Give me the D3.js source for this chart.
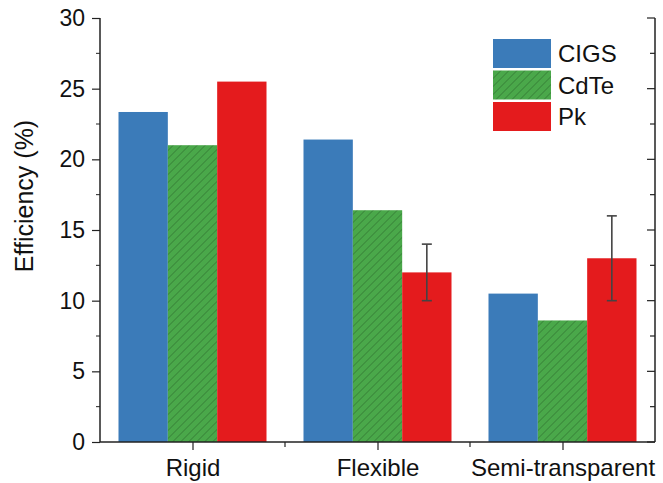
<!DOCTYPE html>
<html>
<head>
<meta charset="utf-8">
<script src="https://cdn.jsdelivr.net/npm/d3@7/dist/d3.min.js"></script>
<style>
  html, body { margin: 0; padding: 0; background: #fff; }
  svg { display: block; font-family: "Liberation Sans", Arial, sans-serif; }
</style>
</head>
<body>
<svg id="chart" width="663" height="483"></svg>
<script>
// Device categories and the three absorber technologies
const categories = ["Rigid", "Flexible", "Semi-transparent"];
const seriesNames = ["CIGS", "CdTe", "Pk"];
const cigs = [23.35, 21.4, 10.5];
const cdte = [21.0, 16.4, 8.6];
const pk = [25.5, 12.0, 13.0];
// Error ranges for perovskite (low, high); null where not reported
const pkErrLow = [null, 10, 10];
const pkErrHigh = [null, 14, 16];
const yTicks = [0, 5, 10, 15, 20, 25, 30];

const colors = { CIGS: "#3b7bb9", CdTe: "#4aa84a", Pk: "#e41b1d" };
const seriesValues = { CIGS: cigs, CdTe: cdte, Pk: pk };

const margin = { left: 100, right: 8, top: 18, bottom: 41 };
const width = 663, height = 483;
const svg = d3.select("#chart");

const defs = svg.append("defs");
const pat = defs.append("pattern")
  .attr("id", "hatch")
  .attr("patternUnits", "userSpaceOnUse")
  .attr("width", 8).attr("height", 8);
pat.append("rect").attr("width", 8).attr("height", 8).attr("fill", colors.CdTe);
pat.append("path")
  .attr("d", "M-2,2 L2,-2 M0,8 L8,0 M6,10 L10,6")
  .attr("stroke", "#2f6e2f").attr("stroke-width", 0.9).attr("stroke-opacity", 0.8);

// Each category slot is one step; bars fill 80% of it
const step = (width - margin.right - margin.left) / categories.length;
const xCat = d3.scalePoint()
  .domain(categories)
  .range([margin.left + step / 2, width - margin.right - step / 2]);
const xSub = d3.scaleBand()
  .domain(seriesNames)
  .range([0, step * 0.8]);

const y = d3.scaleLinear()
  .domain([0, 30])
  .range([height - margin.bottom, margin.top]);

// Bars
const groups = svg.append("g").selectAll("g")
  .data(categories)
  .join("g")
  .attr("transform", d => `translate(${xCat(d) - step * 0.4},0)`);

groups.selectAll("rect")
  .data((c, i) => seriesNames.map(s => ({ s, v: seriesValues[s][i] })))
  .join("rect")
  .attr("x", d => xSub(d.s))
  .attr("width", xSub.bandwidth())
  .attr("y", d => y(d.v))
  .attr("height", d => y(0) - y(d.v))
  .attr("fill", d => d.s === "CdTe" ? "url(#hatch)" : colors[d.s]);

// Error bars on perovskite
const errData = categories.map((c, i) => ({ c, lo: pkErrLow[i], hi: pkErrHigh[i] }))
  .filter(d => d.lo !== null);
const errG = svg.append("g").attr("stroke", "#444").attr("stroke-width", 1.6);
errData.forEach(d => {
  const cx = xCat(d.c) - step * 0.4 + xSub("Pk") + xSub.bandwidth() / 2;
  errG.append("line").attr("x1", cx).attr("x2", cx).attr("y1", y(d.lo)).attr("y2", y(d.hi));
  errG.append("line").attr("x1", cx - 5).attr("x2", cx + 5).attr("y1", y(d.lo)).attr("y2", y(d.lo));
  errG.append("line").attr("x1", cx - 5).attr("x2", cx + 5).attr("y1", y(d.hi)).attr("y2", y(d.hi));
});

// Left axis with major and minor ticks
const axisColor = "#222";
const yMinor = d3.range(2.5, 30, 5);
const left = svg.append("g").attr("transform", `translate(${margin.left},0)`);
left.call(d3.axisLeft(y).tickValues(yTicks).tickSize(8).tickPadding(7).tickFormat(d3.format("d")));
left.call(g => g.selectAll(".tick text").attr("font-size", 23).attr("fill", "#111")
  .attr("font-family", "'Liberation Sans', Arial, sans-serif"));
left.selectAll(".domain").remove();
left.append("g").selectAll("line").data(yMinor).join("line")
  .attr("x1", -4).attr("x2", 0).attr("y1", d => y(d)).attr("y2", d => y(d))
  .attr("stroke", axisColor);
left.append("line").attr("x1", 0).attr("x2", 0).attr("y1", y(30)).attr("y2", y(0))
  .attr("stroke", axisColor).attr("stroke-width", 1.5);
left.selectAll(".tick line").attr("stroke", axisColor).attr("stroke-width", 1.2);

// Right axis: inward ticks, no labels
const rightX = width - margin.right;
const right = svg.append("g").attr("transform", `translate(${rightX},0)`);
right.append("line").attr("x1", 0).attr("x2", 0).attr("y1", y(30)).attr("y2", y(0))
  .attr("stroke", axisColor).attr("stroke-width", 1.5);
right.selectAll("line.t").data(yTicks.concat(yMinor)).join("line").attr("class", "t")
  .attr("x1", d => yTicks.includes(d) ? -8 : -5).attr("x2", 0)
  .attr("y1", d => y(d)).attr("y2", d => y(d))
  .attr("stroke", axisColor).attr("stroke-width", 1.2);

// Bottom axis
const bottom = svg.append("g").attr("transform", `translate(0,${y(0)})`);
bottom.call(d3.axisBottom(xCat).tickSize(8).tickPadding(9));
bottom.selectAll(".domain").remove();
bottom.append("line").attr("x1", margin.left).attr("x2", rightX).attr("y1", 0).attr("y2", 0)
  .attr("stroke", axisColor).attr("stroke-width", 1.5);
bottom.selectAll(".tick line").attr("stroke", axisColor).attr("stroke-width", 1.2);
bottom.selectAll(".tick text").attr("font-size", 24).attr("fill", "#111")
  .attr("font-family", "'Liberation Sans', Arial, sans-serif");
const between = categories.slice(1).map(c => xCat(c) - step / 2);
bottom.selectAll("line.m").data(between).join("line").attr("class", "m")
  .attr("x1", d => d).attr("x2", d => d).attr("y1", 0).attr("y2", 5)
  .attr("stroke", axisColor).attr("stroke-width", 1.2);

// Y-axis title
svg.append("text")
  .attr("transform", `translate(33,196) rotate(-90)`)
  .attr("text-anchor", "middle")
  .attr("font-size", 25).attr("fill", "#111")
  .text("Efficiency (%)");

// Legend
const legend = svg.append("g").attr("transform", "translate(493,39)");
const lg = legend.selectAll("g").data(seriesNames).join("g")
  .attr("transform", (d, i) => `translate(0,${i * 31.5})`);
lg.append("rect").attr("width", 58).attr("height", 29)
  .attr("fill", d => d === "CdTe" ? "url(#hatch)" : colors[d]);
lg.append("text").attr("x", 65).attr("y", 23)
  .attr("font-size", 24).attr("fill", "#111").text(d => d);
</script>
</body>
</html>
